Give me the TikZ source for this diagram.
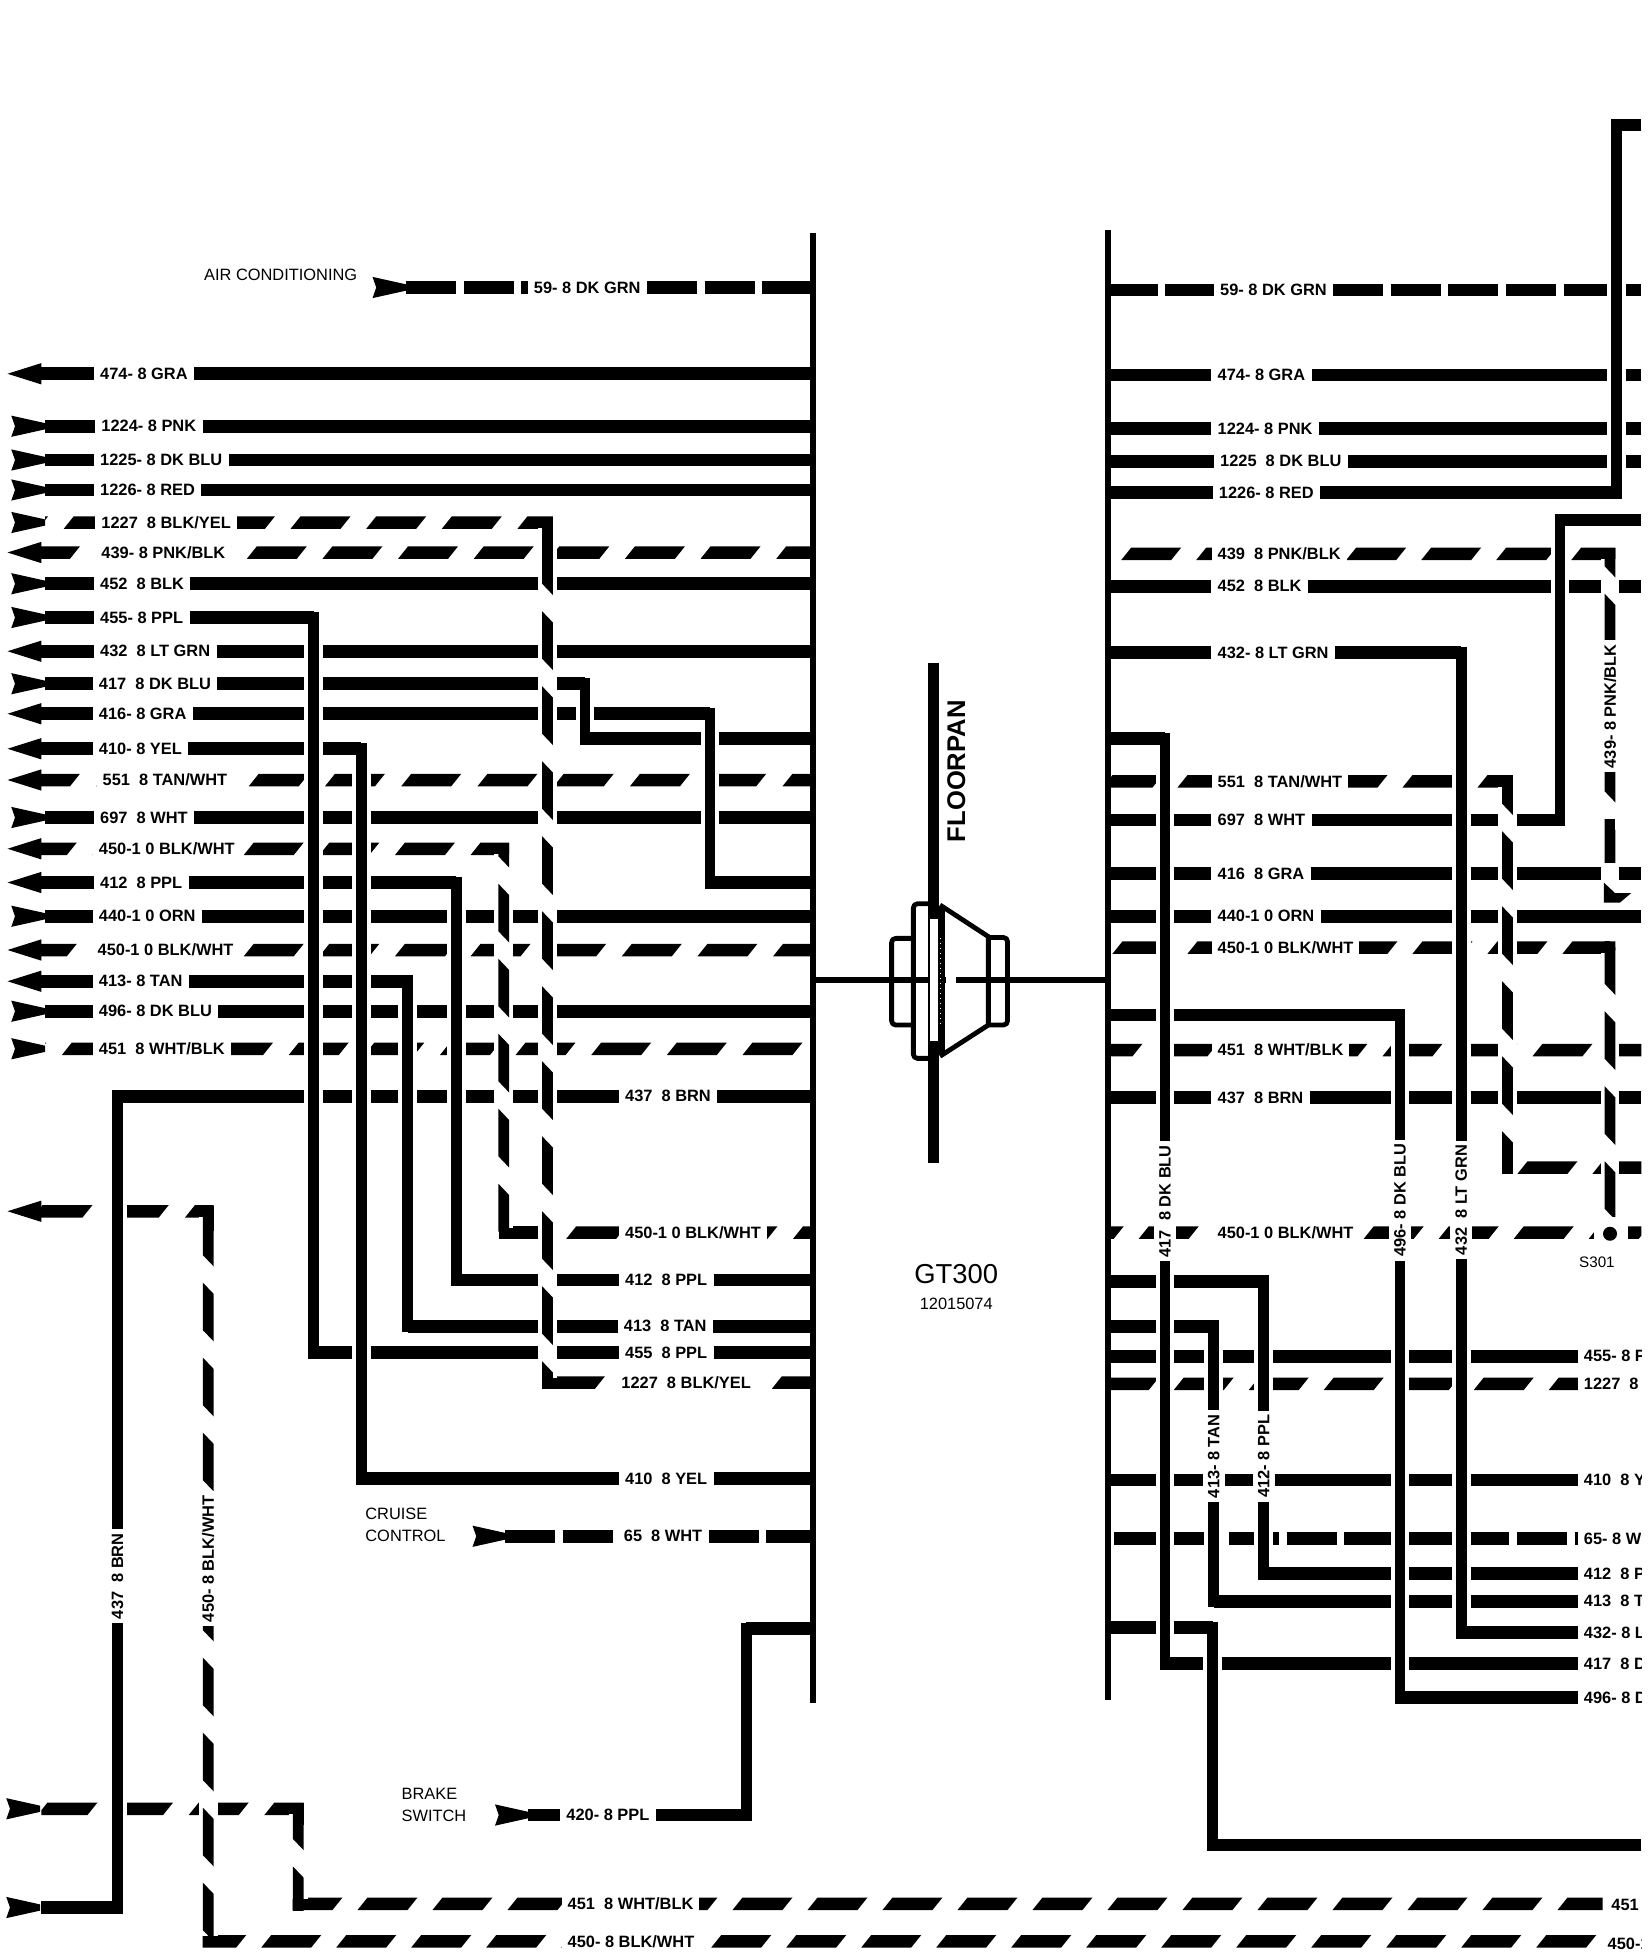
\documentclass[tikz,border=0pt]{standalone}
\usepackage{fontspec}
\setmainfont{Liberation Sans}
\tikzset{
  wire/.style={line width=6.3pt},
  vwire/.style={line width=5.4pt},
  bar/.style={line width=3pt},
  rdash/.style={dash pattern=on 25pt off 3.8pt},
  wlabel/.style={font=\bfseries\fontsize{8.2}{9}\selectfont, fill=white, inner xsep=3pt, inner ysep=0.5pt, minimum height=7pt, anchor=west},
  rlabel/.style={font=\bfseries\fontsize{8.2}{9}\selectfont, fill=white, inner xsep=2pt, inner ysep=1pt, minimum height=11pt, rotate=90},
  plain/.style={font=\fontsize{8.2}{10}\selectfont, inner sep=0pt, anchor=west}
}
% y, x1, x2, phase
\newcommand{\dashrow}[5][60.5]{%
  \begin{scope}
    \clip (#3,#2-5) rectangle (#4,#2+5);
    \pgfmathsetmacro\nxt{#5+#1}
    \foreach \xx in {#5,\nxt,...,#4}
      \fill (\xx,#2+5) -- (\xx+40,#2+5) -- (\xx+48,#2-5) -- (\xx+8,#2-5) -- cycle;
  \end{scope}}
\newcommand{\casing}[3]{\fill[white] (#1-7.5,#2) rectangle (#1+7.5,#3);}
% x, y1, y2, phase
\newcommand{\dashcol}[5][60]{%
  \casing{#2}{#3+9}{#4-9}
  \begin{scope}
    \clip (#2-4.3,#3) rectangle (#2+4.3,#4);
    \pgfmathsetmacro\nxt{#5+#1}
    \foreach \yy in {#5,\nxt,...,#4}
      \fill (#2-4.3,\yy) -- (#2+4.3,\yy+9) -- (#2+4.3,\yy+47) -- (#2-4.3,\yy+38) -- cycle;
  \end{scope}}
\newcommand{\vrun}[3]{\casing{#1}{#2+9}{#3-9}\draw[vwire] (#1,#2-4.8) -- (#1,#3+4.8);}
\newcommand{\arrL}[2][0]{\def\sx{30}\fill (#1+6,#2) -- (#1+33,#2-8.5) -- (#1+33,#2+8.5) -- cycle;}
\newcommand{\arrR}[2][0]{\def\sx{36}\fill (#1+9,#2-8.5) -- (#1+36,#2-2.5) -- (#1+36,#2+2.5) -- (#1+9,#2+8.5) -- (#1+12,#2) -- cycle;}
\begin{document}
\begin{tikzpicture}[x=0.625pt,y=-0.625pt]
\useasboundingbox (0,0) rectangle (1318.4,1568);
\clip (0,0) rectangle (1313,1568);
\coordinate (cL) at (650,186);
\coordinate (cR) at (886,184);
% left side, solid wires
\foreach \nm/\k/\y/\lx/\xe/\txt in {
  n474/L/299/80/650/{474- 8 GRA}, n1224/R/341/81/650/{1224- 8 PNK}, n1225/R/368/80/650/{1225- 8 DK BLU},
  n1226/R/392/80/650/{1226- 8 RED}, n452/R/467/80/650/{452~ 8 BLK}, n455/R/494/80/251/{455- 8 PPL},
  n432/L/521/80/650/{432~ 8 LT GRN}, n417/R/547/79/468/{417~ 8 DK BLU}, n416/L/571/79/568/{416- 8 GRA},
  n410/L/599/79/289/{410- 8 YEL}, n697/R/654/80/650/{697~ 8 WHT}, n412/L/706/80/365/{412~ 8 PPL},
  n440/R/733/79/650/{440-1 0 ORN}, n413/L/785/79/326/{413- 8 TAN}, n496/R/809/79/650/{496- 8 DK BLU}}{
  \node[wlabel] (\nm) at (\lx-5,\y) {\txt};
  \csname arr\k\endcsname{\y}
  \coordinate (s\nm) at (\sx,\y);
  \coordinate (e\nm) at (\xe,\y);
  \draw[wire] (s\nm) -- (\nm);
  \draw[wire] (\nm) -- (e\nm);
}
% left side, slanted dashes
\foreach \nm/\k/\y/\lx/\xa/\xe/\ph/\txt in {
  n1227/R/418/81/36/442.3/-9.5/{1227~ 8 BLK/YEL}, n439/L/442/81/30/650/16/{439- 8 PNK/BLK},
  n450a/L/679/79/30/407.3/13.5/{450-1 0 BLK/WHT},
  n450b/L/760/78/30/650/13.5/{450-1 0 BLK/WHT}, n451/R/839/79/36/644/-11/{451~ 8 WHT/BLK}}{
  \dashrow{\y}{\xa}{\xe}{\ph}
  \node[wlabel] (\nm) at (\lx-5,\y) {\txt};
  \csname arr\k\endcsname{\y}
}
\dashrow[61]{624}{30}{650}{16}
\node[wlabel] (n551) at (77,624) {551~ 8 TAN/WHT};
\arrL{624}
\dashrow[61]{969}{30}{170.8}{26}
\arrL{969}
\dashrow{1447}{33}{242.8}{30}
\arrR[-4]{1447}
% wires coming back into the connector
\foreach \nm/\y/\lx/\xs/\txt in {
  b437/877/500/94/{437~ 8 BRN}, b412/1024/500/365/{412~ 8 PPL}, b413/1061/499/326/{413~ 8 TAN},
  b455/1082/500/251/{455~ 8 PPL}, b410/1183/500/289/{410~ 8 YEL}}{
  \node[wlabel] (\nm) at (\lx-5,\y) {\txt};
  \coordinate (s\nm) at (\xs,\y);
  \draw[wire] (s\nm) -- (\nm);
  \draw[wire] (\nm) -- (cL|-\nm);
}
\draw[wire] (468,591) -- (650,591);
\draw[wire] (568,706) -- (650,706);
\dashrow{986}{399}{650}{453}
\draw[wire] (399,986) -- (434,986);
\node[wlabel] (b450) at (495,986) {450-1 0 BLK/WHT};
\dashrow{1106}{434}{650}{436}
\node[wlabel] (b1227) at (492,1106) {1227~ 8 BLK/YEL};
% air conditioning, cruise, brake
\node[plain] (tAC) at (163,220) {AIR CONDITIONING};
\arrR[289]{230}
\node[wlabel] (n59) at (422,230) {59- 8 DK GRN};
\coordinate (s59) at (325,230);
\draw[wire,rdash] (s59) -- (n59);
\draw[wire,rdash] (n59) -- (cL|-n59);
\node[plain,align=left,font=\fontsize{8.2}{11.2}\selectfont] (tCC) at (292,1220) {CRUISE\\CONTROL};
\arrR[369]{1229}
\node[wlabel] (n65) at (494,1229) {65~ 8 WHT};
\coordinate (s65) at (404,1229);
\draw[wire,rdash] (s65) -- (n65);
\draw[wire,rdash] (n65) -- (cL|-n65);
\node[plain,align=left,font=\fontsize{8.2}{11.2}\selectfont] (tBS) at (321,1444) {BRAKE\\SWITCH};
\arrR[387]{1452}
\node[wlabel] (n420) at (448,1452) {420- 8 PPL};
\coordinate (s420) at (422,1452);
\coordinate (e420) at (597,1452);
\draw[wire] (s420) -- (n420);
\draw[wire] (n420) -- (e420);
\draw[wire] (597,1303) -- (650,1303);
\draw[vwire] (597,1298) -- (597,1457);
% long dashed pair along the bottom
\dashrow[60]{1523}{234}{1282}{226}
\dashrow[60]{1553}{162}{1277}{149}
\node[wlabel] (b451) at (449,1523) {451~ 8 WHT/BLK};
\node[wlabel] (b450c) at (449,1553) {450- 8 BLK/WHT};
\node[wlabel] (e451) at (1284,1524) {451};
\node[wlabel] (e450) at (1281,1555) {450-1};
\draw[wire] (33,1526) -- (94,1526);
\arrR[-4]{1526}
% right side, solid wires
\foreach \nm/\y/\lx/\xe/\txt in {
  m474/300/974/1313/{474- 8 GRA}, m1224/343/974/1313/{1224- 8 PNK}, m1225/369/976/1313/{1225~ 8 DK BLU},
  m1226/394/975/1293/{1226- 8 RED}, m452/469/974/1313/{452~ 8 BLK}, m432/522/974/1169/{432- 8 LT GRN},
  m697/656/974/1248/{697~ 8 WHT}, m416/699/974/1313/{416~ 8 GRA}, m440/733/974/1313/{440-1 0 ORN},
  m437/878/974/1313/{437~ 8 BRN}}{
  \node[wlabel] (\nm) at (\lx-5,\y) {\txt};
  \coordinate (e\nm) at (\xe,\y);
  \draw[wire] (cR|-\nm) -- (\nm);
  \draw[wire] (\nm) -- (e\nm);
}
\foreach \y/\xa/\xe in {591/886/932, 812/886/1120, 1025/886/1011, 1061/886/971, 1302/886/970, 1476/970/1313, 100/1293/1313, 416/1248/1313}
  \draw[wire] (\xa,\y) -- (\xe,\y);
% right side, cut off at the edge
\foreach \nm/\y/\xs/\txt in {
  m455/1085/886/{455- 8 P}, m410/1184/886/{410~ 8 Y}, m412/1259/1011/{412~ 8 P}, m413/1281/971/{413~ 8 T},
  m432b/1306/1169/{432- 8 L}, m417/1331/932/{417~ 8 D}, m496/1358/1120/{496- 8 D}}{
  \node[wlabel] (\nm) at (1262,\y) {\txt};
  \coordinate (s\nm) at (\xs,\y);
  \draw[wire] (s\nm) -- (\nm);
}
\foreach \nm/\y/\lx/\xa/\xe/\ph/\txt in {
  m439/443/974/893/1292.3/897/{439~ 8 PNK/BLK}, m551/625/974/887/1210.3/882/{551~ 8 TAN/WHT},
  m450/758/974/887/1292.3/890/{450-1 0 BLK/WHT}, m451/840/974/887/1313/866/{451~ 8 WHT/BLK},
  m450b/986/974/887/1313/851/{450-1 0 BLK/WHT}}{
  \dashrow[60]{\y}{\xa}{\xe}{\ph}
  \node[wlabel] (\nm) at (\lx-5,\y) {\txt};
}
\dashrow[60]{934}{1202}{1313}{1214}
\dashrow[60]{1107}{887}{1264}{879}
\node[wlabel] (m1227) at (1262,1107) {1227~ 8};
\node[wlabel] (m59) at (971,232) {59- 8 DK GRN};
\coordinate (e59) at (1313,232);
\draw[wire,rdash] (cR|-m59) -- (m59);
\draw[wire,rdash] (m59) -- (e59);
\node[wlabel] (m65) at (1262,1231) {65- 8 W};
\coordinate (s65r) at (891,1231);
\draw[wire,rdash] (s65r) -- (m65);
% columns, the later ones lie over the earlier ones
\vrun{251}{494}{1082}
\vrun{289}{599}{1183}
\vrun{326}{785}{1061}
\vrun{365}{706}{1024}
\vrun{468}{547}{591}
\vrun{568}{571}{706}
\dashcol{403}{674.5}{991}{647}
\dashcol{438}{413.5}{1111}{429}
\draw[vwire] (438,413.5) -- (438,440);
\vrun{94}{877}{1526}
\node[rlabel] (r437) at (94,1261) {437~ 8 BRN};
\dashcol{166.5}{964.5}{1558}{966}
\draw[vwire] (166.5,964.5) -- (166.5,985);
\node[rlabel] (r450) at (166.5,1247) {450- 8 BLK/WHT};
\dashcol{238.5}{1442.5}{1528}{1433}
\draw[vwire] (238.5,1442.5) -- (238.5,1460);
\vrun{932}{591}{1331}
\node[rlabel] (r417) at (932,961) {417~ 8 DK BLU};
\vrun{1120}{812}{1358}
\node[rlabel] (r496) at (1120,960) {496- 8 DK BLU};
\vrun{1169}{522}{1306}
\node[rlabel] (r432) at (1169,960) {432~ 8 LT GRN};
\vrun{971}{1061}{1281}
\node[rlabel] (r413) at (971,1165) {413- 8 TAN};
\vrun{1011}{1025}{1259}
\node[rlabel] (r412) at (1011,1165) {412- 8 PPL};
\vrun{970}{1302}{1476}
\vrun{1248}{416}{656}
\vrun{1293}{100}{394}
\dashcol{1206}{620.5}{939}{605}
\draw[vwire] (1206,620.5) -- (1206,640);
\dashcol{1288}{438.5}{703}{415}
\draw[vwire] (1288,438.5) -- (1288,452);
\node[rlabel] (r439) at (1288,565) {439- 8 PNK/BLK};
\casing{1288}{690}{706}
\draw[vwire] (1288,655) -- (1288,690);
\fill (1283,706) -- (1292,714.4) -- (1305,714.4) -- (1296,722) -- (1283,722) -- cycle;
\dashcol{1288}{753.5}{973}{749}
\draw[vwire] (1288,753.5) -- (1288,770);
\fill[white] (1275,980) rectangle (1302,992);
\node[circle,fill=black,inner sep=0pt,minimum size=7pt] (d301) at (1288,987) {};
\node[plain,font=\fontsize{7.6}{9}\selectfont] (t301) at (1263,1010) {S301};
% connector and floor pan
\draw[bar] (cL) -- (650,1362);
\draw[bar] (cR) -- (886,1360);
\draw[line width=2.6pt] (650,784) -- (886,784);
\fill (742.7,530) rectangle (751.2,930);
\fill[white] (757,780) rectangle (765,788);
\fill (750.7,725) rectangle (756,843);
\fill[white] (744,735.5) rectangle (750.7,833);
\draw[white,dotted,line width=0.5pt] (752.7,750) -- (752.7,820);
\begin{scope}[line width=2.4pt,line join=round]
  \draw[rounded corners=2pt] (742.7,723) -- (730.7,723) -- (730.7,846.7) -- (742.7,846.7);
  \draw[rounded corners=2pt] (730.7,750.7) -- (713.3,750.7) -- (713.3,820) -- (730.7,820);
  \draw (752,724) -- (790.7,749.3) -- (790.7,820) -- (752,845);
  \draw[rounded corners=2pt] (790.7,750) -- (806,750) -- (806,820) -- (790.7,820);
\end{scope}
\node[font=\bfseries\fontsize{12.8}{14}\selectfont,rotate=90,inner sep=0pt] (tFP) at (765,617) {FLOORPAN};
\node[font=\fontsize{13.7}{15}\selectfont,inner sep=0pt] (tGT) at (765,1019) {GT300};
\node[font=\fontsize{8.2}{9}\selectfont,inner sep=0pt] (tPN) at (765,1043) {12015074};
\end{tikzpicture}
\end{document}
